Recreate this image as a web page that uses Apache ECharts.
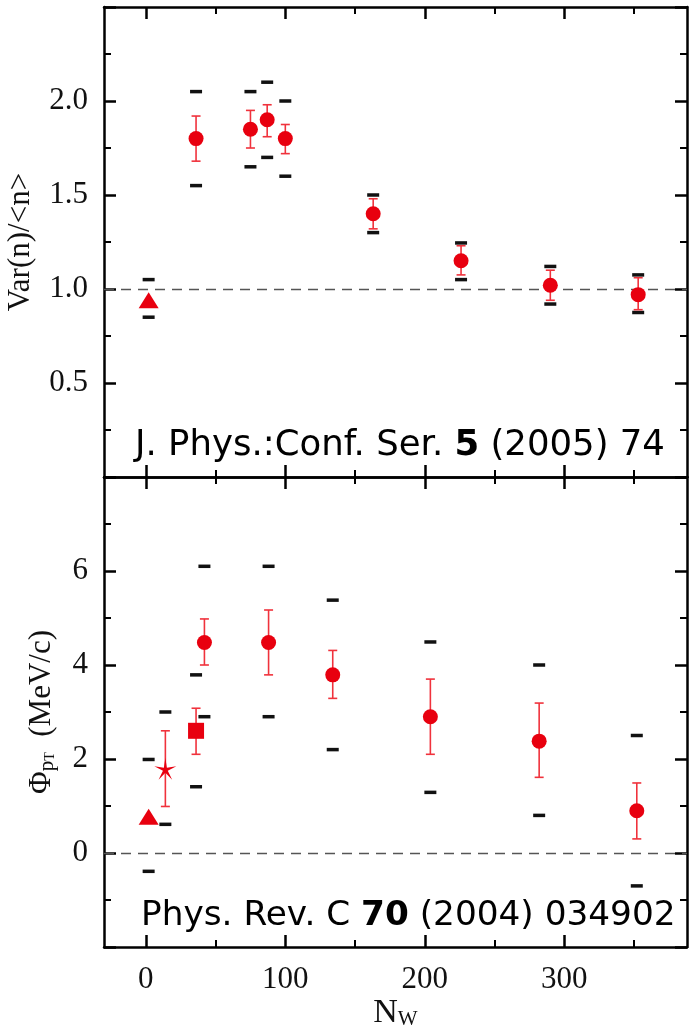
<!DOCTYPE html>
<html><head><meta charset="utf-8">
<script src="https://cdn.jsdelivr.net/npm/echarts@6/dist/echarts.min.js"></script>
<style>html,body{margin:0;padding:0;background:#fff}#c{width:692px;height:1026px}</style>
</head><body><div id="c"></div>
<script>
// ---------- data: top panel (Var(n)/<n>) ----------
const topSet     = ['p+p', 'Pb+Pb', 'Pb+Pb', 'Pb+Pb', 'Pb+Pb', 'Pb+Pb', 'Pb+Pb', 'Pb+Pb', 'Pb+Pb'];
const topNw      = [2, 36, 75, 87, 100, 163, 226, 290, 353];
const topVar     = [0.94, 1.80, 1.85, 1.90, 1.80, 1.40, 1.15, 1.02, 0.97];
const topStatLo  = [null, 1.68, 1.75, 1.81, 1.72, 1.32, 1.075, 0.94, 0.89];
const topStatHi  = [null, 1.92, 1.95, 1.98, 1.875, 1.48, 1.23, 1.10, 1.06];
const topSysLo   = [0.85, 1.55, 1.65, 1.70, 1.60, 1.30, 1.05, 0.92, 0.875];
const topSysHi   = [1.05, 2.05, 2.05, 2.10, 2.00, 1.50, 1.245, 1.12, 1.075];

// ---------- data: bottom panel (Phi_pT) ----------
const botSet     = ['p+p', 'C+C', 'Si+Si', 'Pb+Pb', 'Pb+Pb', 'Pb+Pb', 'Pb+Pb', 'Pb+Pb', 'Pb+Pb'];
const botNw      = [2, 14, 36, 42, 88, 134, 204, 282, 352];
const botPhi     = [0.77, 1.79, 2.60, 4.48, 4.48, 3.79, 2.90, 2.38, 0.90];
const botStatLo  = [null, 0.99, 2.10, 4.00, 3.79, 3.29, 2.10, 1.61, 0.30];
const botStatHi  = [null, 2.60, 3.08, 4.98, 5.17, 4.31, 3.70, 3.19, 1.49];
const botSysLo   = [-0.39, 0.61, 1.41, 2.90, 2.90, 2.20, 1.29, 0.80, -0.70];
const botSysHi   = [1.99, 3.00, 3.79, 6.10, 6.10, 5.38, 4.49, 4.00, 2.50];

// ---------- axes / ticks / text ----------
const xMajorTicks = [0, 100, 200, 300];
const xMinorTicks = [50, 150, 250, 350];
const xRange = [-30, 388];
const topYRange = [0, 2.5];
const botYRange = [-2, 8];
const topRefLine = 1;
const botRefLine = 0;
const topYName = 'Var(n)/<n>';
const botYName = ['Φ', 'p', 'T', '  (MeV/c)'];
const xName = ['N', 'W'];
const citeTop = ['J. Phys.:Conf. Ser. ', '5', ' (2005) 74'];
const citeBot = ['Phys. Rev. C ', '70', ' (2004) 034902'];

// ---------- styles ----------
const RED = '#e8000f';
const RED_ERR = '#f0323c';
const SERIF = "'Liberation Serif','DejaVu Serif',serif";
const SANS = "'DejaVu Sans','Noto Sans',sans-serif";
function starPath() {
  const R = 10, r = 2.2, pts = [];
  for (let k = 0; k < 10; k++) {
    const a = -Math.PI / 2 + k * Math.PI / 5;
    const rr = k % 2 === 0 ? R : r;
    pts.push((rr * Math.cos(a)).toFixed(2) + ' ' + (rr * Math.sin(a)).toFixed(2));
  }
  return 'path://M' + pts.join(' L') + ' Z';
}
const symbolOf = { 'p+p': 'triangle', 'C+C': starPath(), 'Si+Si': 'rect', 'Pb+Pb': 'circle' };
const sizeOf = { 'p+p': [20, 16], 'C+C': [22, 22], 'Si+Si': [16, 16], 'Pb+Pb': 15 };

const chart = echarts.init(document.getElementById('c'), null, { renderer: 'canvas' });

const tickStyle = { color: '#000', width: 2.5 };
function xAxes(gridIndex, withLabels) {
  const base = {
    type: 'value', gridIndex, min: xRange[0], max: xRange[1],
    splitLine: { show: false }, axisLabel: { show: false }
  };
  const major = (pos) => Object.assign({}, base, {
    position: pos,
    axisLine: { onZero: false, lineStyle: { color: '#000', width: 2.5 } },
    axisTick: { inside: true, length: 12, customValues: xMajorTicks, lineStyle: tickStyle }
  });
  const minor = (pos) => Object.assign({}, base, {
    position: pos,
    axisLine: { show: false, onZero: false },
    axisTick: { inside: true, length: 7, customValues: xMinorTicks, lineStyle: { color: '#000', width: 2 } }
  });
  const bottom = major('bottom');
  if (withLabels) {
    bottom.axisLabel = { show: true, customValues: xMajorTicks, margin: 17, fontFamily: SERIF, fontSize: 31, color: '#111' };
    bottom.name = '{a|' + xName[0] + '}{s|' + xName[1] + '}';
    bottom.nameLocation = 'middle';
    bottom.nameGap = 47;
    bottom.nameTextStyle = {
      rich: {
        a: { fontFamily: SERIF, fontSize: 34, color: '#111' },
        s: { fontFamily: SERIF, fontSize: 21, color: '#111', padding: [14, 0, 0, 0] }
      }
    };
  }
  return [bottom, minor('bottom'), major('top'), minor('top')];
}
function yAxes(gridIndex, range, interval, fmt, name, nameStyle, nameGap) {
  const base = {
    type: 'value', gridIndex, min: range[0], max: range[1], interval,
    splitLine: { show: false },
    axisLine: { onZero: false, lineStyle: { color: '#000', width: 2.5 } },
    axisTick: { inside: true, length: 12, lineStyle: tickStyle },
    minorTick: { show: true, splitNumber: 2, length: 7, lineStyle: { color: '#000', width: 2 } },
    minorSplitLine: { show: false }
  };
  const left = Object.assign({}, base, {
    position: 'left',
    axisLabel: { show: true, formatter: fmt, margin: 16, fontFamily: SERIF, fontSize: 31, color: '#111', showMinLabel: false, showMaxLabel: false },
    name, nameLocation: 'middle', nameRotate: 90, nameGap, nameTextStyle: nameStyle
  });
  const right = Object.assign({}, base, { position: 'right', axisLabel: { show: false } });
  return [left, right];
}

function errRender(params, api) {
  const x = api.value(0), lo = api.value(1), hi = api.value(2);
  const a = api.coord([x, hi]), b = api.coord([x, lo]);
  const w = 4.5;
  const st = { stroke: RED_ERR, lineWidth: 1.6 };
  return {
    type: 'group', children: [
      { type: 'line', shape: { x1: a[0], y1: a[1], x2: b[0], y2: b[1] }, style: st },
      { type: 'line', shape: { x1: a[0] - w, y1: a[1], x2: a[0] + w, y2: a[1] }, style: st },
      { type: 'line', shape: { x1: b[0] - w, y1: b[1], x2: b[0] + w, y2: b[1] }, style: st }
    ]
  };
}

function panelSeries(xi, yi, sets, nw, val, sLo, sHi, yLo, yHi, ref) {
  const sysData = [];
  nw.forEach((x, i) => { sysData.push([x, yLo[i]]); sysData.push([x, yHi[i]]); });
  const errData = [];
  nw.forEach((x, i) => { if (sLo[i] != null) errData.push([x, sLo[i], sHi[i]]); });
  const ptData = nw.map((x, i) => ({
    value: [x, val[i]], symbol: symbolOf[sets[i]], symbolSize: sizeOf[sets[i]]
  }));
  return [
    {
      type: 'scatter', xAxisIndex: xi, yAxisIndex: yi, data: sysData, symbol: 'rect', symbolSize: [12, 3.5],
      itemStyle: { color: '#111', opacity: 1 }, silent: true, z: 3,
      markLine: {
        silent: true, symbol: ['none', 'none'], label: { show: false },
        lineStyle: { color: '#555', type: [10, 7], width: 1.3 },
        data: [{ yAxis: ref }]
      }
    },
    { type: 'custom', xAxisIndex: xi, yAxisIndex: yi, data: errData, renderItem: errRender, silent: true, z: 4 },
    {
      type: 'scatter', xAxisIndex: xi, yAxisIndex: yi, data: ptData, silent: true, z: 5,
      itemStyle: { color: RED, borderColor: RED, borderWidth: 0, opacity: 1 }
    }
  ];
}

function citeRich(size) {
  return {
    a: { fontFamily: SANS, fontSize: size, fontWeight: 'normal', color: '#000' },
    b: { fontFamily: SANS, fontSize: size, fontWeight: 'bold', color: '#000' }
  };
}

const option = {
  backgroundColor: '#fff',
  animation: false,
  grid: [
    { left: 104, top: 7, width: 583, height: 470, containLabel: false, outerBoundsMode: 'none' },
    { left: 104, top: 477, width: 583, height: 470, containLabel: false, outerBoundsMode: 'none' }
  ],
  xAxis: [].concat(xAxes(0, false), xAxes(1, true)),
  yAxis: [].concat(
    yAxes(0, topYRange, 0.5, v => v.toFixed(1), topYName,
      { fontFamily: SERIF, fontSize: 31, color: '#111' }, 68),
    yAxes(1, botYRange, 2, v => String(v),
      '{a|' + botYName[0] + '}{s|' + botYName[1] + '}{t|' + botYName[2] + '}{a|' + botYName[3] + '}',
      {
        rich: {
          a: { fontFamily: SERIF, fontSize: 31, color: '#111' },
          s: { fontFamily: SERIF, fontSize: 21, color: '#111', padding: [12, 0, 0, 0] },
          t: { fontFamily: SERIF, fontSize: 14, color: '#111', padding: [18, 0, 0, 0] }
        }
      }, 46)
  ),
  title: [
    {
      text: '{a|' + citeTop[0] + '}{b|' + citeTop[1] + '}{a|' + citeTop[2] + '}',
      left: 130, top: 423,
      textStyle: { fontWeight: 'normal', rich: citeRich(35.5) }
    },
    {
      text: '{a|' + citeBot[0] + '}{b|' + citeBot[1] + '}{a|' + citeBot[2] + '}',
      left: 136, top: 894,
      textStyle: { fontWeight: 'normal', rich: citeRich(34.3) }
    }
  ],
  series: [].concat(
    panelSeries(0, 0, topSet, topNw, topVar, topStatLo, topStatHi, topSysLo, topSysHi, topRefLine),
    panelSeries(4, 2, botSet, botNw, botPhi, botStatLo, botStatHi, botSysLo, botSysHi, botRefLine)
  )
};
chart.setOption(option);
</script>
</body></html>
